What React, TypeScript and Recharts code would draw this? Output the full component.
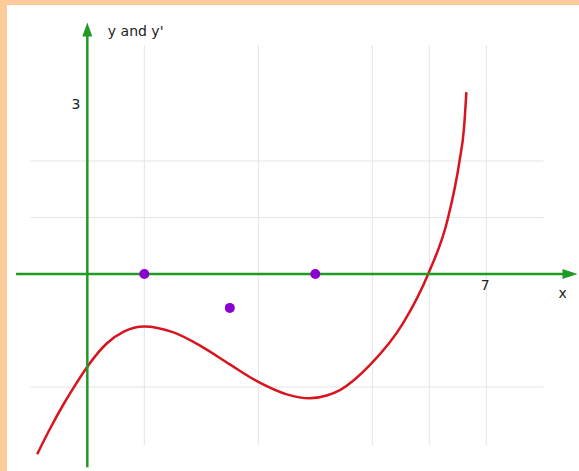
import React from 'react'
import { ComposedChart, Line, Scatter, XAxis, YAxis, ReferenceLine, ReferenceDot } from 'recharts'

// red curve y
const curveX = [-0.88, -0.65, -0.42, -0.24, 0, 0.34, 0.64, 1.0, 1.5, 2.0, 2.5, 3.0, 3.5, 3.9, 4.2, 4.44, 4.96, 5.54, 5.98, 6.32, 6.53, 6.61, 6.65]
const curveY = [-3.19, -2.73, -2.31, -2.01, -1.64, -1.23, -1.02, -0.93, -1.03, -1.28, -1.6, -1.91, -2.13, -2.2, -2.15, -2.05, -1.61, -0.87, 0, 0.96, 2.0, 2.6, 3.22]

// purple points (y')
const dotX = [1, 4, 2.5]
const dotY = [0, 0, -0.6]

const gridX = [1, 3, 5, 6, 7]
const gridY = [2, 1, -2]

const yTickLabel = '3'
const xTickLabel = '7'
const xAxisName = 'x'
const yAxisName = "y and y'"

const GREEN = '#1f9a24'
const RED = '#d8141e'
const PURPLE = '#8a00cc'
const GRID = '#e4e4e4'

const X_DOMAIN: [number, number] = [-1.409, 8.626]
const Y_DOMAIN: [number, number] = [-3.487, 4.761]

const curveData = curveX.map((x, i) => ({ x, y: curveY[i] }))
const dotData = dotX.map((x, i) => ({ x, y: dotY[i] }))

const RightArrow = (p: any) => (
  <polygon points={`${p.cx},${p.cy} ${p.cx - 15},${p.cy - 5} ${p.cx - 15},${p.cy + 5}`} fill={GREEN} />
)
const UpArrow = (p: any) => (
  <polygon points={`${p.cx},${p.cy} ${p.cx - 5},${p.cy + 14} ${p.cx + 5},${p.cy + 14}`} fill={GREEN} />
)
const Dot = (p: any) => <circle cx={p.cx} cy={p.cy} r={5} fill={PURPLE} />

const textStyle = { fill: '#222', fontSize: 14, fontFamily: 'DejaVu Sans, sans-serif' }

export default function App() {
  return (
    <div style={{ position: 'absolute', left: 0, top: 0, width: 579, height: 471, background: '#fdca99' }}>
      <div style={{ position: 'absolute', left: 7, top: 5, width: 572, height: 466, background: '#fff' }}>
        <ComposedChart width={572} height={466} margin={{ top: 0, right: 0, bottom: 0, left: 0 }}>
          <XAxis dataKey="x" type="number" domain={X_DOMAIN} allowDataOverflow hide />
          <YAxis dataKey="y" type="number" domain={Y_DOMAIN} allowDataOverflow hide />

          {gridX.map((g) => (
            <ReferenceLine key={'gx' + g} segment={[{ x: g, y: 4.05 }, { x: g, y: -3.03 }]} stroke={GRID} strokeWidth={1} />
          ))}
          {gridY.map((g) => (
            <ReferenceLine key={'gy' + g} segment={[{ x: -1.0, y: g }, { x: 8.0, y: g }]} stroke={GRID} strokeWidth={1} />
          ))}

          <Line data={curveData} dataKey="y" type="monotone" stroke={RED} strokeWidth={2.5} dot={false} activeDot={false} isAnimationActive={false} />

          <ReferenceLine segment={[{ x: -1.25, y: 0 }, { x: 8.4, y: 0 }]} stroke={GREEN} strokeWidth={2.5} />
          <ReferenceLine segment={[{ x: 0, y: -3.42 }, { x: 0, y: 4.3 }]} stroke={GREEN} strokeWidth={2.5} />
          <ReferenceDot x={8.6} y={0} r={0} shape={RightArrow} />
          <ReferenceDot x={0} y={4.45} r={0} shape={UpArrow} />

          <Scatter data={dotData} dataKey="y" shape={Dot} isAnimationActive={false} />

          <ReferenceDot x={-0.2} y={3} r={0} stroke="none" label={{ value: yTickLabel, position: 'center', ...textStyle }} />
          <ReferenceDot x={6.98} y={-0.19} r={0} stroke="none" label={{ value: xTickLabel, position: 'center', ...textStyle }} />
          <ReferenceDot x={8.34} y={-0.34} r={0} stroke="none" label={{ value: xAxisName, position: 'center', ...textStyle }} />
          <ReferenceDot x={0.36} y={4.3} r={0} stroke="none" label={{ value: yAxisName, position: 'right', offset: 0, ...textStyle }} />
        </ComposedChart>
      </div>
    </div>
  )
}
